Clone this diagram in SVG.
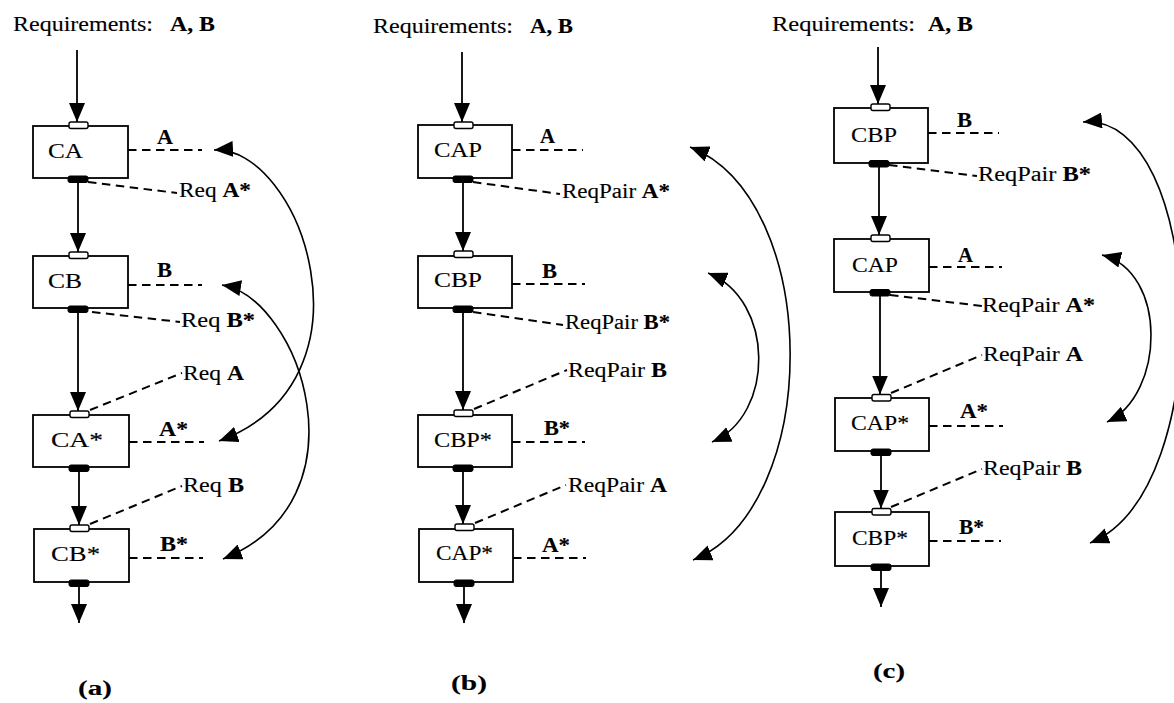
<svg xmlns="http://www.w3.org/2000/svg" width="1174" height="703" viewBox="0 0 1174 703">
  <style>
    text { font-family: "Liberation Serif", "Times New Roman", serif; font-size: 20px; fill: #000; stroke: #000; stroke-width: 0.12; }
    .b { font-weight: bold; }
    .box { fill: #fff; stroke: #000; stroke-width: 1.8; }
    .pin { fill: #fff; stroke: #000; stroke-width: 1.4; }
    .pout { fill: #000; stroke: #000; stroke-width: 1; }
    .flow { fill: none; stroke: #000; stroke-width: 1.8; marker-end: url(#ah); }
    .dash { fill: none; stroke: #000; stroke-width: 2; stroke-dasharray: 8.5 5.5; }
    .arc { fill: none; stroke: #000; stroke-width: 1.6; marker-start: url(#ah); marker-end: url(#ah); }
  </style>
  <defs>
    <marker id="ah" viewBox="0 0 19 16" refX="19" refY="8" markerWidth="19" markerHeight="16" markerUnits="userSpaceOnUse" orient="auto-start-reverse">
      <path d="M0,0 L19,8 L0,16 z" fill="#000"/>
    </marker>
  </defs>
  <rect width="1174" height="703" fill="#fff"/>

  <!-- headings and captions -->
  <g id="headings">
    <text x="13" y="31" textLength="140" lengthAdjust="spacingAndGlyphs">Requirements:</text>
    <text class="b" x="170" y="31" textLength="45" lengthAdjust="spacingAndGlyphs">A, B</text>
    <text x="373" y="33" textLength="140" lengthAdjust="spacingAndGlyphs">Requirements:</text>
    <text class="b" x="530" y="33" textLength="43" lengthAdjust="spacingAndGlyphs">A, B</text>
    <text x="772" y="31" textLength="143" lengthAdjust="spacingAndGlyphs">Requirements:</text>
    <text class="b" x="928" y="31" textLength="45" lengthAdjust="spacingAndGlyphs">A, B</text>
    <text class="b" x="78" y="695" textLength="34" lengthAdjust="spacingAndGlyphs">(a)</text>
    <text class="b" x="451" y="690" textLength="36" lengthAdjust="spacingAndGlyphs">(b)</text>
    <text class="b" x="873" y="678" textLength="32" lengthAdjust="spacingAndGlyphs">(c)</text>
  </g>

  <!-- ===== (a) ===== -->
  <g id="a-CA">
    <rect class="box" x="33" y="126" width="95" height="52"/>
    <rect class="pin" x="69" y="122" width="19" height="6.5" rx="2"/>
    <rect class="pout" x="68" y="176" width="20" height="6.5" rx="2"/>
    <text x="48" y="158" textLength="35" lengthAdjust="spacingAndGlyphs">CA</text>
  </g>
  <g id="a-CB">
    <rect class="box" x="33" y="256" width="95" height="52"/>
    <rect class="pin" x="69" y="252" width="19" height="6.5" rx="2"/>
    <rect class="pout" x="68" y="306" width="20" height="6.5" rx="2"/>
    <text x="48" y="288" textLength="34" lengthAdjust="spacingAndGlyphs">CB</text>
  </g>
  <g id="a-CAs">
    <rect class="box" x="33" y="415" width="96" height="52"/>
    <rect class="pin" x="70" y="411" width="19" height="6.5" rx="2"/>
    <rect class="pout" x="69" y="465" width="20" height="6.5" rx="2"/>
    <text x="51" y="447" textLength="52" lengthAdjust="spacingAndGlyphs">CA*</text>
  </g>
  <g id="a-CBs">
    <rect class="box" x="34" y="529" width="95" height="53"/>
    <rect class="pin" x="70" y="525" width="19" height="6.5" rx="2"/>
    <rect class="pout" x="69" y="580" width="20" height="6.5" rx="2"/>
    <text x="51" y="561" textLength="49" lengthAdjust="spacingAndGlyphs">CB*</text>
  </g>

  <!-- ===== (b) ===== -->
  <g id="b-CAP">
    <rect class="box" x="418" y="125" width="94" height="53"/>
    <rect class="pin" x="454" y="122" width="19" height="6.5" rx="2"/>
    <rect class="pout" x="453" y="176" width="20" height="6.5" rx="2"/>
    <text x="434" y="157" textLength="48" lengthAdjust="spacingAndGlyphs">CAP</text>
  </g>
  <g id="b-CBP">
    <rect class="box" x="418" y="256" width="94" height="52"/>
    <rect class="pin" x="454" y="251" width="19" height="6.5" rx="2"/>
    <rect class="pout" x="453" y="306" width="20" height="6.5" rx="2"/>
    <text x="434" y="287" textLength="48" lengthAdjust="spacingAndGlyphs">CBP</text>
  </g>
  <g id="b-CBPs">
    <rect class="box" x="418" y="415" width="94" height="52"/>
    <rect class="pin" x="454" y="410" width="19" height="6.5" rx="2"/>
    <rect class="pout" x="453" y="465" width="20" height="6.5" rx="2"/>
    <text x="434" y="447" textLength="58" lengthAdjust="spacingAndGlyphs">CBP*</text>
  </g>
  <g id="b-CAPs">
    <rect class="box" x="419" y="529" width="94" height="53"/>
    <rect class="pin" x="455" y="524" width="19" height="6.5" rx="2"/>
    <rect class="pout" x="454" y="580" width="20" height="6.5" rx="2"/>
    <text x="436" y="560" textLength="57" lengthAdjust="spacingAndGlyphs">CAP*</text>
  </g>

  <!-- ===== (c) ===== -->
  <g id="c-CBP">
    <rect class="box" x="834" y="108" width="94" height="55"/>
    <rect class="pin" x="871" y="104" width="19" height="6.5" rx="2"/>
    <rect class="pout" x="869" y="160.5" width="20" height="6.5" rx="2"/>
    <text x="851" y="142" textLength="46" lengthAdjust="spacingAndGlyphs">CBP</text>
  </g>
  <g id="c-CAP">
    <rect class="box" x="834" y="239" width="95" height="53"/>
    <rect class="pin" x="871" y="235" width="19" height="6.5" rx="2"/>
    <rect class="pout" x="870" y="289.5" width="20" height="6.5" rx="2"/>
    <text x="852" y="272" textLength="46" lengthAdjust="spacingAndGlyphs">CAP</text>
  </g>
  <g id="c-CAPs">
    <rect class="box" x="835" y="398" width="94" height="53"/>
    <rect class="pin" x="872" y="394.5" width="19" height="6.5" rx="2"/>
    <rect class="pout" x="871" y="449" width="20" height="6.5" rx="2"/>
    <text x="851" y="430" textLength="58" lengthAdjust="spacingAndGlyphs">CAP*</text>
  </g>
  <g id="c-CBPs">
    <rect class="box" x="835" y="512" width="94" height="54"/>
    <rect class="pin" x="872" y="508.5" width="19" height="6.5" rx="2"/>
    <rect class="pout" x="871" y="564" width="20" height="6.5" rx="2"/>
    <text x="852" y="545" textLength="56" lengthAdjust="spacingAndGlyphs">CBP*</text>
  </g>

  <!-- connectors: control flow, requirement links, pairing arcs -->
  <g id="connectors">
    <!-- (a) flow -->
    <path class="flow" d="M77,50 V122"/>
    <path class="flow" d="M78,182.5 V252"/>
    <path class="flow" d="M78,312.5 V411"/>
    <path class="flow" d="M79,471.5 V525"/>
    <path class="flow" d="M79,586.5 V623"/>
    <!-- (b) flow -->
    <path class="flow" d="M462,52 V122"/>
    <path class="flow" d="M463,182.5 V251"/>
    <path class="flow" d="M463,312.5 V410"/>
    <path class="flow" d="M463,471.5 V524"/>
    <path class="flow" d="M464,586.5 V623"/>
    <!-- (c) flow -->
    <path class="flow" d="M878,47 V104"/>
    <path class="flow" d="M879,167 V235"/>
    <path class="flow" d="M880,296 V394.5"/>
    <path class="flow" d="M881,455.5 V508.5"/>
    <path class="flow" d="M881,570.5 V607"/>

    <!-- (a) dashed links -->
    <path class="dash" d="M128,150 H202"/>
    <path class="dash" d="M88,182 L177,193"/>
    <path class="dash" d="M128,285 H202"/>
    <path class="dash" d="M92,312 L180,322"/>
    <path class="dash" d="M90,410 L182,373"/>
    <path class="dash" d="M129,442 H204"/>
    <path class="dash" d="M90,524 L182,486"/>
    <path class="dash" d="M129,558 H203"/>
    <!-- (b) dashed links -->
    <path class="dash" d="M512,150 H583"/>
    <path class="dash" d="M473,182 L560,194"/>
    <path class="dash" d="M512,284 H585"/>
    <path class="dash" d="M473,312 L563,325"/>
    <path class="dash" d="M474,409 L567,370"/>
    <path class="dash" d="M512,442 H585"/>
    <path class="dash" d="M475,523 L566,485"/>
    <path class="dash" d="M513,558 H586"/>
    <!-- (c) dashed links -->
    <path class="dash" d="M928,133 H999"/>
    <path class="dash" d="M889,165 L977,176"/>
    <path class="dash" d="M929,267 H1002"/>
    <path class="dash" d="M890,295 L982,306"/>
    <path class="dash" d="M891,393 L982,355"/>
    <path class="dash" d="M929,426 H1003"/>
    <path class="dash" d="M891,507 L982,469"/>
    <path class="dash" d="M929,541 H1001"/>

    <!-- pairing arcs -->
    <path class="arc" d="M214,150 C300,145 384,380 219,441"/>
    <path class="arc" d="M222,285 C300,298 370,500 223,559"/>
    <path class="arc" d="M690,147 C823,200 823,507 693,560"/>
    <path class="arc" d="M708,273 C775,300 775,415 712,442"/>
    <path class="arc" d="M1083,122 C1205,112 1220,490 1090,543"/>
    <path class="arc" d="M1102,255 C1168,272 1165,395 1107,422"/>
  </g>

  <!-- link labels -->
  <g id="labels">
    <text class="b" x="157" y="144" textLength="16" lengthAdjust="spacingAndGlyphs">A</text>
    <text x="179" y="197" textLength="72" lengthAdjust="spacingAndGlyphs">Req <tspan class="b">A*</tspan></text>
    <text class="b" x="157" y="277" textLength="15" lengthAdjust="spacingAndGlyphs">B</text>
    <text x="181" y="327" textLength="74" lengthAdjust="spacingAndGlyphs">Req <tspan class="b">B*</tspan></text>
    <text x="183" y="380" textLength="61" lengthAdjust="spacingAndGlyphs">Req <tspan class="b">A</tspan></text>
    <text class="b" x="159" y="436" textLength="29" lengthAdjust="spacingAndGlyphs">A*</text>
    <text x="183" y="492" textLength="61" lengthAdjust="spacingAndGlyphs">Req <tspan class="b">B</tspan></text>
    <text class="b" x="160" y="551" textLength="28" lengthAdjust="spacingAndGlyphs">B*</text>

    <text class="b" x="540" y="143" textLength="15" lengthAdjust="spacingAndGlyphs">A</text>
    <text x="562" y="198" textLength="108" lengthAdjust="spacingAndGlyphs">ReqPair <tspan class="b">A*</tspan></text>
    <text class="b" x="542" y="278" textLength="15" lengthAdjust="spacingAndGlyphs">B</text>
    <text x="565" y="329" textLength="105" lengthAdjust="spacingAndGlyphs">ReqPair <tspan class="b">B*</tspan></text>
    <text x="568" y="377" textLength="99" lengthAdjust="spacingAndGlyphs">ReqPair <tspan class="b">B</tspan></text>
    <text class="b" x="544" y="435" textLength="26" lengthAdjust="spacingAndGlyphs">B*</text>
    <text x="568" y="492" textLength="99" lengthAdjust="spacingAndGlyphs">ReqPair <tspan class="b">A</tspan></text>
    <text class="b" x="542" y="552" textLength="28" lengthAdjust="spacingAndGlyphs">A*</text>

    <text class="b" x="957" y="127" textLength="15" lengthAdjust="spacingAndGlyphs">B</text>
    <text x="978" y="181" textLength="113" lengthAdjust="spacingAndGlyphs">ReqPair <tspan class="b">B*</tspan></text>
    <text class="b" x="958" y="262" textLength="15" lengthAdjust="spacingAndGlyphs">A</text>
    <text x="982" y="312" textLength="113" lengthAdjust="spacingAndGlyphs">ReqPair <tspan class="b">A*</tspan></text>
    <text x="983" y="361" textLength="100" lengthAdjust="spacingAndGlyphs">ReqPair <tspan class="b">A</tspan></text>
    <text class="b" x="960" y="418" textLength="28" lengthAdjust="spacingAndGlyphs">A*</text>
    <text x="983" y="475" textLength="99" lengthAdjust="spacingAndGlyphs">ReqPair <tspan class="b">B</tspan></text>
    <text class="b" x="959" y="534" textLength="25" lengthAdjust="spacingAndGlyphs">B*</text>
  </g>
</svg>
